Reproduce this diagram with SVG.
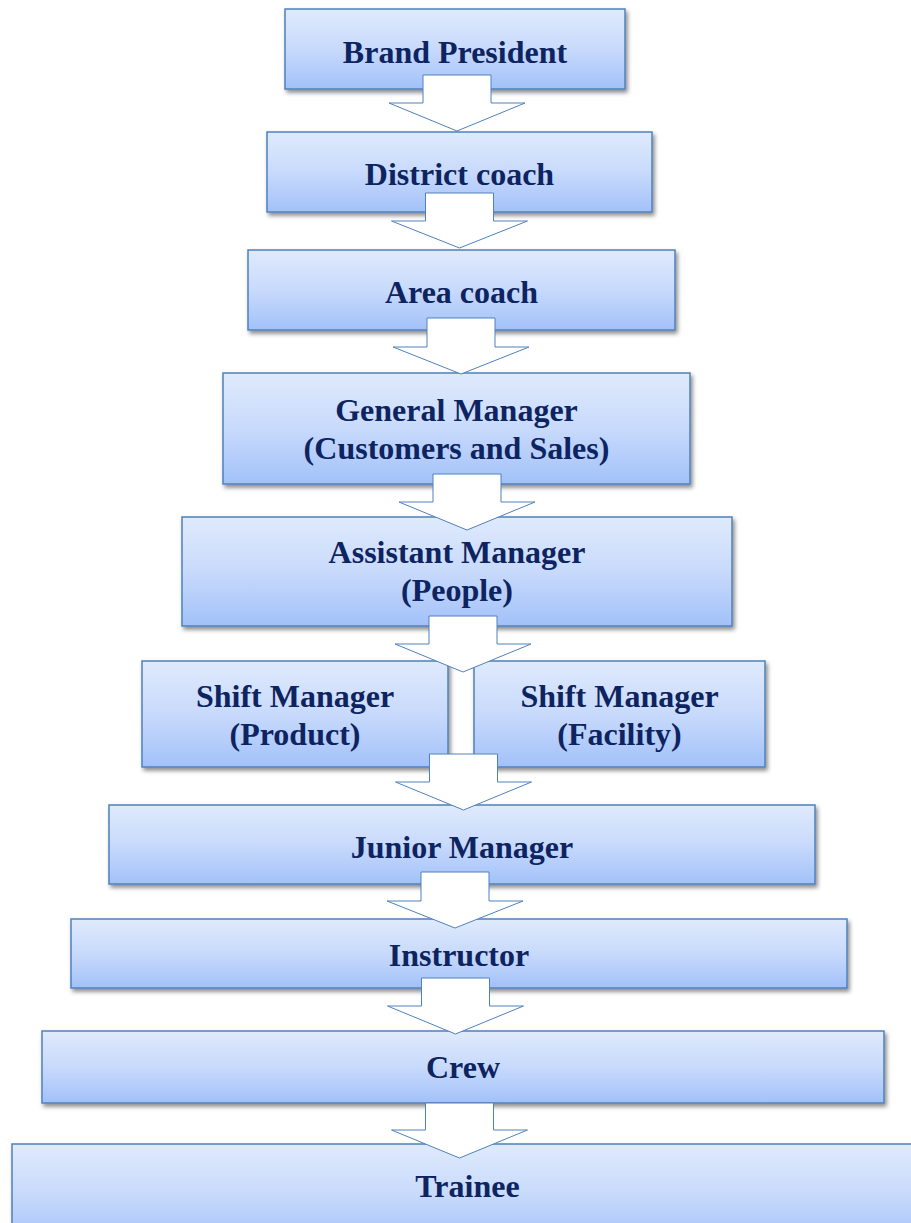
<svg xmlns="http://www.w3.org/2000/svg" width="911" height="1223" viewBox="0 0 911 1223">
  <defs>
    <linearGradient id="boxFill" x1="0" y1="0" x2="0" y2="1">
      <stop offset="0" stop-color="#dfeafc"/>
      <stop offset="0.5" stop-color="#c8dafc"/>
      <stop offset="1" stop-color="#a2c1f9"/>
    </linearGradient>
    <filter id="shadow" x="-5%" y="-10%" width="112%" height="130%">
      <feDropShadow dx="2" dy="3" stdDeviation="2" flood-color="#000" flood-opacity="0.45"/>
    </filter>
  </defs>
  <style>
    .box { fill: url(#boxFill); stroke: #4f81bd; stroke-width: 1.5; filter: url(#shadow); }
    .label { font-family: "Liberation Serif", "Times New Roman", serif; font-weight: bold; font-size: 32px; fill: #0d2461; text-anchor: middle; }
    .arrow { fill: #ffffff; stroke: #4f81bd; stroke-width: 1; stroke-linejoin: miter; }
  </style>
  <rect width="911" height="1223" fill="#ffffff"/>

  <g id="brand-president">
    <rect class="box" x="285" y="9" width="340" height="80"/>
    <text class="label" x="455" y="63">Brand President</text>
  </g>
  <g id="district-coach">
    <rect class="box" x="267" y="132" width="385" height="80"/>
    <text class="label" x="459.5" y="185">District coach</text>
  </g>
  <g id="area-coach">
    <rect class="box" x="248" y="250" width="427" height="80"/>
    <text class="label" x="461.5" y="303">Area coach</text>
  </g>
  <g id="general-manager">
    <rect class="box" x="223" y="373" width="467" height="111"/>
    <text class="label" x="456.5" y="421">General Manager</text>
    <text class="label" x="456.5" y="459">(Customers and Sales)</text>
  </g>
  <g id="assistant-manager">
    <rect class="box" x="182" y="517" width="550" height="109"/>
    <text class="label" x="457" y="563">Assistant Manager</text>
    <text class="label" x="457" y="601">(People)</text>
  </g>
  <g id="shift-manager-product">
    <rect class="box" x="142" y="661" width="306" height="106"/>
    <text class="label" x="295" y="707">Shift Manager</text>
    <text class="label" x="295" y="745">(Product)</text>
  </g>
  <g id="shift-manager-facility">
    <rect class="box" x="474" y="661" width="291" height="106"/>
    <text class="label" x="619.5" y="707">Shift Manager</text>
    <text class="label" x="619.5" y="745">(Facility)</text>
  </g>
  <g id="junior-manager">
    <rect class="box" x="109" y="805" width="706" height="79"/>
    <text class="label" x="462" y="858">Junior Manager</text>
  </g>
  <g id="instructor">
    <rect class="box" x="71" y="919" width="776" height="69"/>
    <text class="label" x="459" y="966">Instructor</text>
  </g>
  <g id="crew">
    <rect class="box" x="42" y="1031" width="842" height="72"/>
    <text class="label" x="463" y="1078">Crew</text>
  </g>
  <g id="trainee">
    <rect class="box" x="12" y="1144" width="911" height="100"/>
    <text class="label" x="467.5" y="1197">Trainee</text>
  </g>

  <!-- block arrows between levels -->
  <g id="connectors">
    <polygon class="arrow" points="423,75 491,75 491,103 525,103 457,131 389,103 423,103"/>
    <polygon class="arrow" points="425.5,193 493.5,193 493.5,221 527.5,221 459.5,248 391.5,221 425.5,221"/>
    <polygon class="arrow" points="427,318 495,318 495,347 529,347 461,374 393,347 427,347"/>
    <polygon class="arrow" points="433,474 501,474 501,502 535,502 467,530 399,502 433,502"/>
    <polygon class="arrow" points="429,616 497,616 497,644 531,644 463,672 395,644 429,644"/>
    <polygon class="arrow" points="429.5,754 497.5,754 497.5,782 531.5,782 463.5,810 395.5,782 429.5,782"/>
    <polygon class="arrow" points="421,872 489,872 489,901 523,901 455,928 387,901 421,901"/>
    <polygon class="arrow" points="421.5,978 489.5,978 489.5,1006 523.5,1006 455.5,1034 387.5,1006 421.5,1006"/>
    <polygon class="arrow" points="425.5,1103 493.5,1103 493.5,1130 527.5,1130 459.5,1158 391.5,1130 425.5,1130"/>
  </g>
</svg>
